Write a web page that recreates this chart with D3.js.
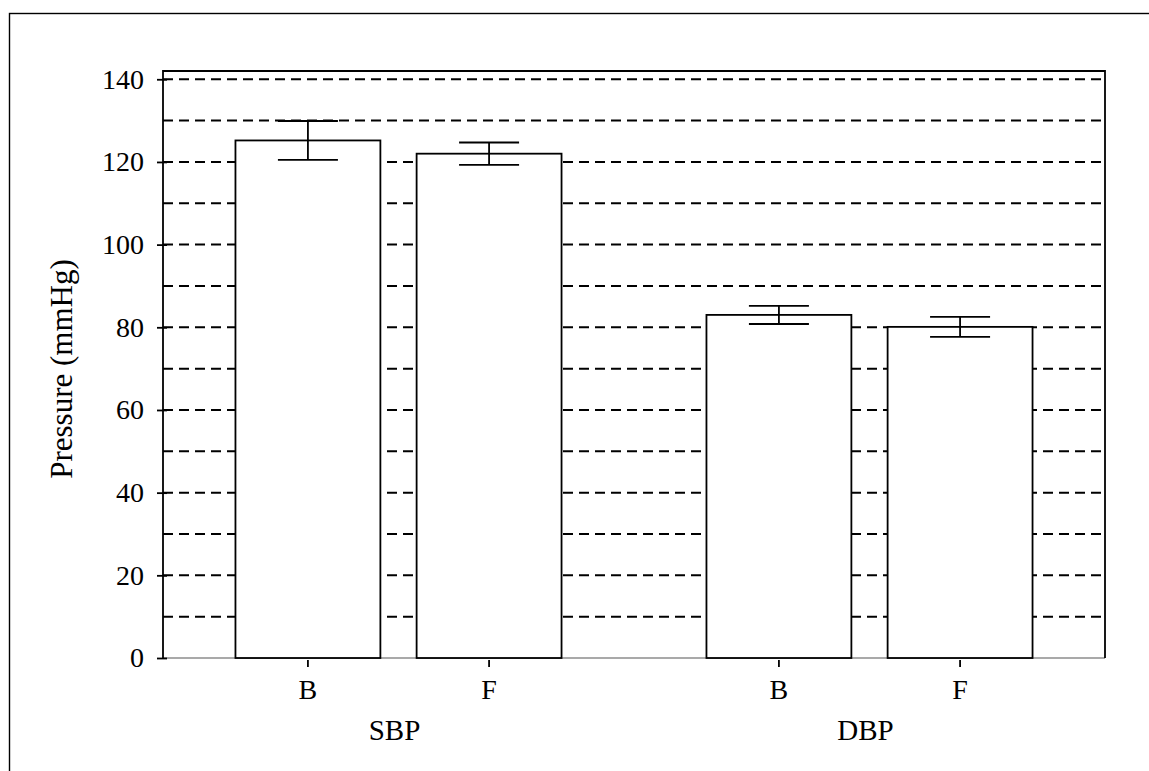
<!DOCTYPE html>
<html>
<head>
<meta charset="utf-8">
<script src="https://cdn.jsdelivr.net/npm/d3@7"></script>
<style>
  html, body { margin: 0; padding: 0; background: #fff; }
  svg { display: block; }
  text { font-family: "Liberation Serif", "Times New Roman", serif; fill: #000; }
</style>
</head>
<body>
<svg id="chart" width="1149" height="771"></svg>
<script>
// Blood pressure before (B) and after (F), mean ± error
const groups = ["SBP", "DBP"];
const conditions = ["B", "F"];
const meanSBP = [125.2, 122.0];
const errSBP = [4.7, 2.7];
const meanDBP = [83.0, 80.1];
const errDBP = [2.2, 2.4];
const yTicks = [0, 20, 40, 60, 80, 100, 120, 140];
const gridValues = [0, 10, 20, 30, 40, 50, 60, 70, 80, 90, 100, 110, 120, 130, 140];
const yTitle = "Pressure (mmHg)";

const rows = [];
groups.forEach((g, gi) => {
  const means = gi === 0 ? meanSBP : meanDBP;
  const errs = gi === 0 ? errSBP : errDBP;
  conditions.forEach((c, ci) => rows.push({ group: g, cond: c, mean: means[ci], err: errs[ci] }));
});

const svg = d3.select("#chart");
const plot = { left: 163, right: 1105, top: 71, bottom: 658 };

// outer frame, running off the right and bottom edges
svg.append("rect")
  .attr("x", 9.5).attr("y", 13.5)
  .attr("width", 1300).attr("height", 900)
  .attr("fill", "none").attr("stroke", "#000").attr("stroke-width", 1.4);

const y = d3.scaleLinear().domain([0, 142]).range([plot.bottom, plot.top]);
const xGroup = d3.scaleBand().domain(groups).range([plot.left, plot.right]).padding(0);
const xCond = d3.scaleBand().domain(conditions).range([0, xGroup.bandwidth()])
  .paddingInner(0.2).paddingOuter(0.4);

// dashed grid every 10
svg.append("g").selectAll("line").data(gridValues.filter(v => v > 0)).join("line")
  .attr("x1", plot.left).attr("x2", plot.right)
  .attr("y1", d => y(d)).attr("y2", d => y(d))
  .attr("stroke", "#000").attr("stroke-width", 2)
  .attr("stroke-dasharray", "10,6");

// bottom baseline
svg.append("line")
  .attr("x1", plot.left).attr("x2", plot.right)
  .attr("y1", plot.bottom).attr("y2", plot.bottom)
  .attr("stroke", "#555").attr("stroke-width", 1.2);

// bars
const bars = svg.append("g");
bars.selectAll("rect").data(rows).join("rect")
  .attr("x", d => xGroup(d.group) + xCond(d.cond))
  .attr("width", xCond.bandwidth())
  .attr("y", d => y(d.mean))
  .attr("height", d => y(0) - y(d.mean))
  .attr("fill", "#fff").attr("stroke", "#000").attr("stroke-width", 1.8);

// error bars
const capHalf = 30;
const eb = svg.append("g").attr("stroke", "#000").attr("stroke-width", 1.8);
rows.forEach(d => {
  const cx = xGroup(d.group) + xCond(d.cond) + xCond.bandwidth() / 2;
  eb.append("line").attr("x1", cx).attr("x2", cx)
    .attr("y1", y(d.mean + d.err)).attr("y2", y(d.mean - d.err));
  [d.mean + d.err, d.mean - d.err].forEach(v => {
    eb.append("line").attr("x1", cx - capHalf).attr("x2", cx + capHalf)
      .attr("y1", y(v)).attr("y2", y(v));
  });
});

// plot frame (left, top, right)
svg.append("path")
  .attr("d", `M${plot.left},${plot.bottom}V${plot.top}H${plot.right}V${plot.bottom}`)
  .attr("fill", "none").attr("stroke", "#000").attr("stroke-width", 1.8);

// y axis ticks (crossing the axis line) and labels
const yAxis = d3.axisLeft(y).tickValues(yTicks).tickSize(6).tickPadding(13).tickFormat(d3.format("d"));
const yg = svg.append("g").attr("transform", `translate(${plot.left},0)`).call(yAxis);
yg.select(".domain").remove();
yg.selectAll(".tick line").attr("x1", 4).attr("stroke", "#000").attr("stroke-width", 1.8);
yg.selectAll(".tick text").attr("font-size", 28).attr("font-family", "Liberation Serif");

// x ticks and labels
const xg = svg.append("g");
rows.forEach(d => {
  const cx = xGroup(d.group) + xCond(d.cond) + xCond.bandwidth() / 2;
  xg.append("line").attr("x1", cx).attr("x2", cx)
    .attr("y1", plot.bottom + 2).attr("y2", plot.bottom + 9)
    .attr("stroke", "#000").attr("stroke-width", 1.8);
  xg.append("text").attr("x", cx).attr("y", 699)
    .attr("text-anchor", "middle").attr("font-size", 28).text(d.cond);
});
groups.forEach(g => {
  xg.append("text").attr("x", xGroup(g) + xGroup.bandwidth() / 2 - 4).attr("y", 740)
    .attr("text-anchor", "middle").attr("font-size", 29).text(g);
});

// y title
svg.append("text")
  .attr("transform", "translate(72,369) rotate(-90)")
  .attr("text-anchor", "middle").attr("font-size", 31).text(yTitle);
</script>
</body>
</html>
